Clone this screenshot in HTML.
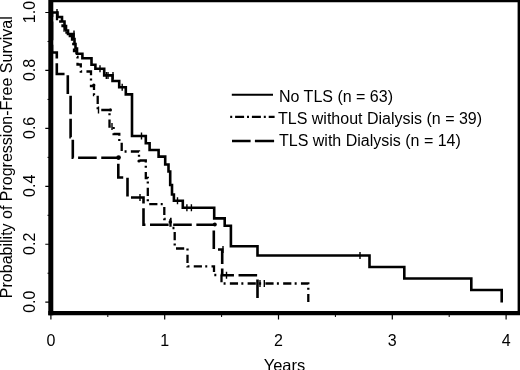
<!DOCTYPE html>
<html><head><meta charset="utf-8"><style>
html,body{margin:0;padding:0;background:#fff;}
svg{display:block;}
text{font-family:"Liberation Sans",Arial,sans-serif;font-size:16px;fill:#000;}
</style></head><body>
<svg width="520" height="370" viewBox="0 0 520 370">
<rect width="520" height="370" fill="#fff"/>
<g fill="none" stroke="#000">
<path d="M49,1H518.8V313" stroke-width="2.4"/>
<path d="M50.8,0V315.2" stroke-width="5"/>
<path d="M48.3,313.1H520" stroke-width="4.2"/>
<path d="M45.3,302.20H49.5M45.3,244.26H49.5M45.3,186.32H49.5M45.3,128.38H49.5M45.3,70.44H49.5M45.3,12.50H49.5" stroke-width="1.2"/>
<path d="M47.5,273.23H49.5M47.5,215.29H49.5M47.5,157.35H49.5M47.5,99.41H49.5M47.5,41.47H49.5" stroke-width="1"/>
<path d="M50.90,314V319.5M164.70,314V319.5M278.50,314V319.5M392.30,314V319.5M506.10,314V319.5" stroke-width="1.2"/>
<path d="M107.80,314V317M221.60,314V317M335.40,314V317M449.20,314V317" stroke-width="1"/>
<path d="M53,12.5H57.5V17H62V21.5H64.5V26H66V30.5H68V34H73.5V39H74.5V44H75.5V48.5H77V53.8H82.4V58.2H91.5V64.7H95.4V68.8H104.2V75.4H112.5V81H119.2V87.2H125.8V94.4H132V136H145.8V143.2H149.6V150H158.6V156.6H165.2V164.5H168.5V171.5H170.2V185H172V194.5H173.9V200.8H182.8V207.8H214.2V218.4H224.7V225.8H230.9V246.3H257.5V255.5H369.5V267H404.3V278.5H471.3V290H501.7V302.5" stroke-width="2.6"/>
<path d="M57,9.0V16.0M74,30.5V37.5M100,65.3V72.3M106.3,71.9V78.9M108,71.9V78.9M113,71.9V78.9M122.2,83.7V90.7M141.5,132.5V139.5M177.5,197.3V204.3M186.9,204.3V211.3M191.4,204.3V211.3M360,252.0V259.0" stroke-width="1.4"/>
<path d="M53,12.5H57V21.5H62.5V26H64.5V30.5H66.5V36H72V44H74V51H76.5V57H77.5V64.5H80.8V71.5H91V86H94V95H97.7V110H109.5V126.5H113.6V134H119.3V142H121.7V151.5H139V160.5H145.8V178H147.8V204.2H164.3V219H170.5V228H174.7V248.5H187.5V266.3H214V275H221.5V283.5H308.3V302.5" stroke-width="2.3" stroke-dasharray="8.2 3.3 2 4.27" stroke-dashoffset="14.17"/>
<path d="M98.5,106.5V113.5M112,123.0V130.0M260,280.0V287.0M264.3,280.0V287.0" stroke-width="1.4"/>
<path d="M52,12.5V52.5H56.8V74H67.8V95H70.6V137.2H72.8V157.7H118.3V177.5H127.5V197.5H143.5V224.8H213.8V249.5H222.2V275.3H257.5V302.5" stroke-width="2.6" stroke-dasharray="18.6 4.57" stroke-dashoffset="14.07"/>
<path d="M140,194.0V201.0M223,246.0V253.0M226.5,271.8V278.8" stroke-width="1.4"/>
<path d="M231.8,94.8H273" stroke-width="2"/>
</g>
<g fill="#000"><circle cx="118.6" cy="157.6" r="2.3"/><circle cx="214.8" cy="224.4" r="2.0"/><circle cx="170.3" cy="222" r="1.8"/><circle cx="110.4" cy="109.9" r="1.6"/><circle cx="93.8" cy="85" r="1.6"/><circle cx="139" cy="161" r="1.6"/></g>
<g fill="none" stroke="#000">
<path d="M230.2,116.9H274.6" stroke-width="2.4" stroke-dasharray="2 2.9 9 2.9" />
<path d="M232,141H250.6M254.9,141H274.1" stroke-width="2.6"/>
</g>
<text x="34.7" y="301.70" transform="rotate(-90 34.7 301.70)" text-anchor="middle">0.0</text><text x="34.7" y="243.76" transform="rotate(-90 34.7 243.76)" text-anchor="middle">0.2</text><text x="34.7" y="185.82" transform="rotate(-90 34.7 185.82)" text-anchor="middle">0.4</text><text x="34.7" y="127.88" transform="rotate(-90 34.7 127.88)" text-anchor="middle">0.6</text><text x="34.7" y="69.94" transform="rotate(-90 34.7 69.94)" text-anchor="middle">0.8</text><text x="34.7" y="12.00" transform="rotate(-90 34.7 12.00)" text-anchor="middle">1.0</text>
<text x="50.90" y="346" text-anchor="middle">0</text><text x="164.70" y="346" text-anchor="middle">1</text><text x="278.50" y="346" text-anchor="middle">2</text><text x="392.30" y="346" text-anchor="middle">3</text><text x="506.10" y="346" text-anchor="middle">4</text>
<text x="284.5" y="370.8" text-anchor="middle" style="font-size:16.5px">Years</text>
<text x="11.9" y="157.2" transform="rotate(-90 11.9 157.2)" text-anchor="middle">Probability of Progression-Free Survival</text>
<text x="279" y="101.5">No TLS (n = 63)</text>
<text x="278" y="123.5">TLS without Dialysis (n = 39)</text>
<text x="279" y="145.5">TLS with Dialysis (n = 14)</text>
</svg>
</body></html>
